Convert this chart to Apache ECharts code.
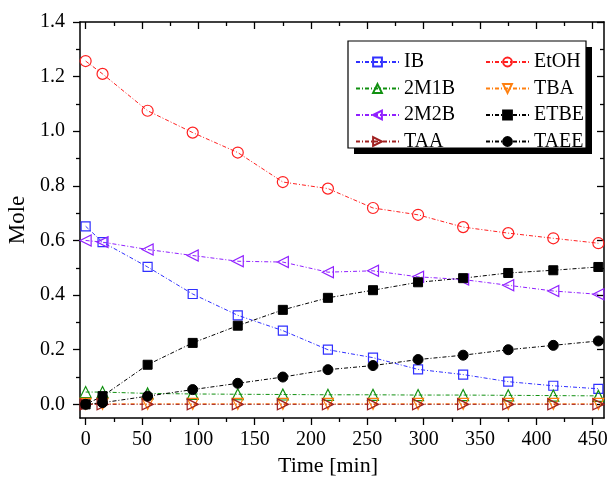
<!DOCTYPE html>
<html>
<head>
<meta charset="utf-8">
<script src="https://cdn.jsdelivr.net/npm/echarts@6/dist/echarts.min.js"></script>
<style>
  html, body { margin: 0; padding: 0; background: #fff; }
  #chart { width: 611px; height: 477px; }
</style>
</head>
<body>
<div id="chart"></div>
<script>
// sampling times [min]
const times = [0, 15, 55, 95, 135, 175, 215, 255, 295, 335, 375, 415, 455]

// moles
const ib   = [0.652, 0.594, 0.503, 0.404, 0.326, 0.270, 0.200, 0.171, 0.128, 0.109, 0.083, 0.068, 0.057]
const etoh = [1.257, 1.210, 1.075, 0.995, 0.922, 0.814, 0.790, 0.719, 0.694, 0.649, 0.627, 0.608, 0.590]
const m1b  = [0.045, 0.045, 0.040, 0.038, 0.037, 0.036, 0.035, 0.035, 0.034, 0.034, 0.033, 0.032, 0.031]
const tba  = [0.002, 0.002, 0.002, 0.002, 0.002, 0.002, 0.002, 0.002, 0.002, 0.002, 0.002, 0.002, 0.002]
const m2b  = [0.600, 0.594, 0.567, 0.545, 0.524, 0.521, 0.484, 0.489, 0.467, 0.457, 0.436, 0.415, 0.403]
const etbe = [0.000, 0.030, 0.145, 0.225, 0.288, 0.346, 0.390, 0.418, 0.447, 0.462, 0.481, 0.491, 0.503]
const taa  = [0.000, 0.000, 0.000, 0.000, 0.000, 0.000, 0.000, 0.000, 0.000, 0.000, 0.000, 0.000, 0.000]
const taee = [0.000, 0.006, 0.030, 0.054, 0.077, 0.100, 0.127, 0.142, 0.164, 0.180, 0.200, 0.216, 0.232]

// tick values
const xMajor = [0, 50, 100, 150, 200, 250, 300, 350, 400, 450]
const xMinor = [25, 75, 125, 175, 225, 275, 325, 375, 425]
const yMajor = [0, 0.2, 0.4, 0.6, 0.8, 1.0, 1.2, 1.4]
const yMinor = [0.1, 0.3, 0.5, 0.7, 0.9, 1.1, 1.3]

const FONT = 'Liberation Serif'
const dash = [4, 2, 1, 2]

const chart = echarts.init(document.getElementById('chart'))

function pairs(vals) {
  return times.map((t, i) => [t, vals[i]])
}

function mkSeries(name, vals, color, symbol, opts) {
  opts = opts || {}
  return {
    name,
    type: 'line',
    data: pairs(vals),
    symbol,
    symbolSize: opts.size || 10,
    symbolRotate: opts.rotate || 0,
    lineStyle: { color, width: 1, type: dash },
    itemStyle: opts.filled
      ? { color, borderColor: color, borderWidth: 1 }
      : { color: 'rgba(255,255,255,0)', borderColor: color, borderWidth: 1.2 },
    z: 3,
    animation: false
  }
}

// bottom/left ticks point out, top/right mirror ticks point in
function xAx(position, ticks, len, labels, extra) {
  return Object.assign({
    type: 'value', min: -5, max: 460, position,
    axisLine: { show: labels, onZero: false, lineStyle: { color: '#000', width: 1.5 } },
    axisTick: { inside: position === 'top', length: len, customValues: ticks, lineStyle: { color: '#000', width: 1.3 } },
    axisLabel: labels
      ? { customValues: ticks, color: '#000', fontFamily: FONT, fontSize: 20, margin: 12 }
      : { show: false },
    splitLine: { show: false }
  }, extra || {})
}

function yAx(position, ticks, len, labels, extra) {
  return Object.assign({
    type: 'value', min: -0.05, max: 1.4, position,
    axisLine: { show: labels, onZero: false, lineStyle: { color: '#000', width: 1.5 } },
    axisTick: { inside: position === 'right', length: len, customValues: ticks, lineStyle: { color: '#000', width: 1.3 } },
    axisLabel: labels
      ? { customValues: ticks, color: '#000', fontFamily: FONT, fontSize: 20, margin: 15,
          formatter: v => v.toFixed(1) }
      : { show: false },
    splitLine: { show: false }
  }, extra || {})
}

const option = {
  backgroundColor: '#fff',
  animation: false,
  grid: { left: 80, right: 7, top: 22, bottom: 59, outerBoundsMode: 'none', containLabel: false },
  xAxis: [
    xAx('bottom', xMajor, 7, true, {
      name: 'Time [min]', nameLocation: 'middle', nameGap: 37,
      nameTextStyle: { color: '#000', fontFamily: FONT, fontSize: 22, padding: [0, 28, 0, 0] }
    }),
    xAx('bottom', xMinor, 4, false),
    xAx('top', xMajor, 7, true, { axisLabel: { show: false } }),
    xAx('top', xMinor, 4, false)
  ],
  yAxis: [
    yAx('left', yMajor, 7, true, {
      name: 'Mole', nameLocation: 'middle', nameGap: 50,
      nameTextStyle: { color: '#000', fontFamily: FONT, fontSize: 23 }
    }),
    yAx('left', yMinor, 4, false),
    yAx('right', yMajor, 7, true, { axisLabel: { show: false } }),
    yAx('right', yMinor, 4, false)
  ],
  graphic: [
    { type: 'rect', z: 1, shape: { x: 354, y: 47, width: 238, height: 107 }, style: { fill: '#000' } },
    { type: 'rect', z: 1, shape: { x: 348, y: 41, width: 238, height: 107 },
      style: { fill: '#fff', stroke: '#000', lineWidth: 1.2 } }
  ],
  legend: [
    {
      orient: 'vertical', left: 350, top: 47, itemGap: 6.5, itemWidth: 43, itemHeight: 11, z: 5,
      textStyle: { color: '#000', fontFamily: FONT, fontSize: 20 },
      data: ['IB', '2M1B', '2M2B', 'TAA']
    },
    {
      orient: 'vertical', left: 480, top: 47, itemGap: 6.5, itemWidth: 43, itemHeight: 11, z: 5,
      textStyle: { color: '#000', fontFamily: FONT, fontSize: 20 },
      data: ['EtOH', 'TBA', 'ETBE', 'TAEE']
    }
  ],
  series: [
    mkSeries('IB', ib, '#3030ff', 'rect', { size: 9 }),
    mkSeries('EtOH', etoh, '#ff2020', 'circle', { size: 11 }),
    mkSeries('2M1B', m1b, '#109010', 'triangle', { size: 11 }),
    mkSeries('TBA', tba, '#ff8010', 'triangle', { size: 11, rotate: 180 }),
    mkSeries('2M2B', m2b, '#9020ff', 'triangle', { size: 11, rotate: 90 }),
    mkSeries('ETBE', etbe, '#000', 'rect', { size: 9, filled: true }),
    mkSeries('TAA', taa, '#a02020', 'triangle', { size: 11, rotate: -90 }),
    mkSeries('TAEE', taee, '#000', 'circle', { size: 10, filled: true })
  ]
}

chart.setOption(option)
</script>
</body>
</html>
